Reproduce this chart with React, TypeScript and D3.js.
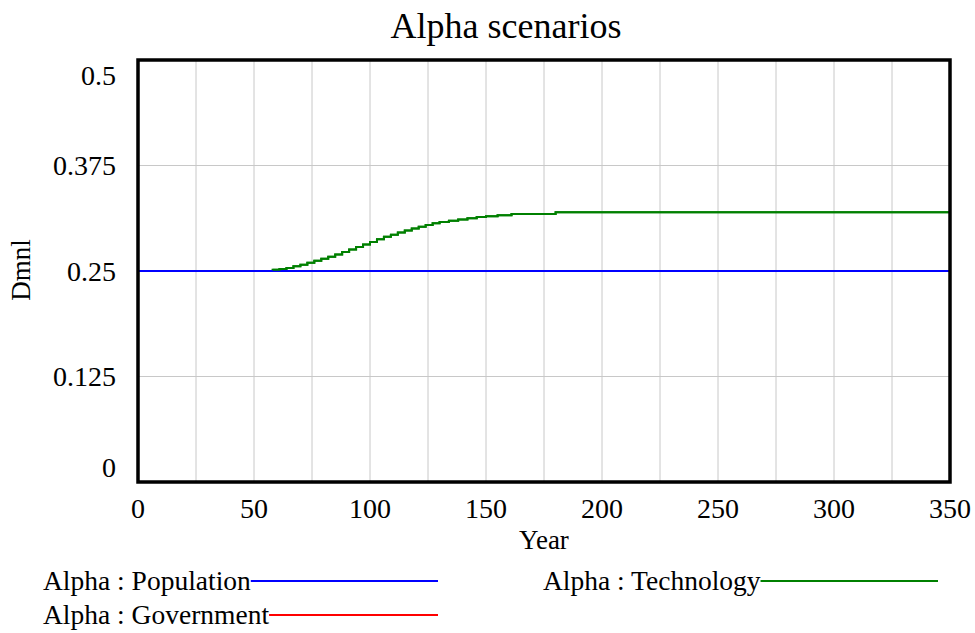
import React, { useEffect, useRef } from "react";
import * as d3 from "d3";

// data
const years = [0, 58, 61, 64, 67, 70, 73, 76, 79, 82, 85, 88, 91, 94, 97, 100, 103, 106, 109, 112, 115, 118, 121, 124, 127, 130, 134, 138, 142, 146, 150, 155, 161, 180, 350];
const technology = [0.25, 0.2515, 0.2525, 0.2535, 0.2555, 0.2575, 0.2598, 0.262, 0.2645, 0.267, 0.2695, 0.2725, 0.2755, 0.2785, 0.2815, 0.2845, 0.2875, 0.2905, 0.293, 0.2955, 0.298, 0.3005, 0.3025, 0.3045, 0.3065, 0.308, 0.3095, 0.311, 0.3125, 0.314, 0.315, 0.3162, 0.3175, 0.3195, 0.3195];
const flatYears = [0, 350];
const population = [0.25, 0.25];
const government = [0.25, 0.25];
const yTicks = [0, 0.125, 0.25, 0.375, 0.5];
const yTickLabels = ["0", "0.125", "0.25", "0.375", "0.5"];
const xTicks = [0, 50, 100, 150, 200, 250, 300, 350];
const xGrid = d3.range(0, 351, 25);

const FONT = "'Liberation Serif', 'Times New Roman', serif";

export default function App() {
  const ref = useRef<SVGSVGElement>(null);

  useEffect(() => {
    const svg = d3.select(ref.current);
    svg.selectAll("*").remove();

    const margin = { top: 60, left: 138, right: 25, bottom: 151 };
    const W = 975, H = 633;
    const x = d3.scaleLinear().domain([0, 350]).range([margin.left, W - margin.right]);
    const y = d3.scaleLinear().domain([0, 0.5]).range([H - margin.bottom, margin.top]);

    svg.append("text")
      .attr("x", 506).attr("y", 38)
      .attr("text-anchor", "middle")
      .style("font-family", FONT).style("font-size", "36px")
      .text("Alpha scenarios");

    // grid
    svg.append("g").selectAll("line.v").data(xGrid).enter().append("line")
      .attr("x1", d => x(d)).attr("x2", d => x(d))
      .attr("y1", y(0)).attr("y2", y(0.5))
      .attr("stroke", "#c8c8c8").attr("stroke-width", 1);
    svg.append("g").selectAll("line.h").data(yTicks).enter().append("line")
      .attr("x1", x(0)).attr("x2", x(350))
      .attr("y1", d => y(d)).attr("y2", d => y(d))
      .attr("stroke", "#c8c8c8").attr("stroke-width", 1);

    const line = (xs: number[], vs: number[], color: string, curve: any) => {
      const pts = xs.map((d, i) => [d, vs[i]] as [number, number]);
      svg.append("path")
        .datum(pts)
        .attr("fill", "none")
        .attr("stroke", color)
        .attr("stroke-width", 2)
        .attr("d", d3.line<[number, number]>().x(d => x(d[0])).y(d => y(d[1])).curve(curve));
    };
    line(flatYears, government, "#ff0000", d3.curveLinear);
    line(years, technology, "#008000", d3.curveStepAfter);
    line(flatYears, population, "#0000ff", d3.curveLinear);
    // technology above population after it leaves 0.25
    line(years.slice(1), technology.slice(1), "#008000", d3.curveStepAfter);

    // frame
    svg.append("rect")
      .attr("x", x(0)).attr("y", y(0.5))
      .attr("width", x(350) - x(0)).attr("height", y(0) - y(0.5))
      .attr("fill", "none").attr("stroke", "#000").attr("stroke-width", 3.5);

    // y tick labels
    svg.append("g").selectAll("text").data(yTicks).enter().append("text")
      .attr("x", 116)
      .attr("y", d => Math.min(Math.max(y(d), y(0.5) + 15), y(0) - 15))
      .attr("dy", "0.35em")
      .attr("text-anchor", "end")
      .style("font-family", FONT).style("font-size", "28px")
      .text((d, i) => yTickLabels[i]);

    // x tick labels
    svg.append("g").selectAll("text").data(xTicks).enter().append("text")
      .attr("x", d => x(d)).attr("y", 518)
      .attr("text-anchor", "middle")
      .style("font-family", FONT).style("font-size", "28px")
      .text(d => String(d));

    svg.append("text")
      .attr("x", 544).attr("y", 549)
      .attr("text-anchor", "middle")
      .style("font-family", FONT).style("font-size", "27px")
      .text("Year");

    svg.append("text")
      .attr("transform", "translate(30,270) rotate(-90)")
      .attr("text-anchor", "middle")
      .style("font-family", FONT).style("font-size", "27px")
      .text("Dmnl");

    // legend
    const legend = [
      { label: "Alpha : Population", color: "#0000ff", tx: 43, ty: 590, x2: 438 },
      { label: "Alpha : Government", color: "#ff0000", tx: 43, ty: 624, x2: 438 },
      { label: "Alpha : Technology", color: "#008000", tx: 543, ty: 590, x2: 938 },
    ];
    legend.forEach(l => {
      const t = svg.append("text")
        .attr("x", l.tx).attr("y", l.ty)
        .style("font-family", FONT).style("font-size", "27.5px")
        .text(l.label);
      const w = (t.node() as SVGTextElement).getComputedTextLength();
      svg.append("line")
        .attr("x1", l.tx + w).attr("x2", l.x2)
        .attr("y1", l.ty - 9).attr("y2", l.ty - 9)
        .attr("stroke", l.color).attr("stroke-width", 2);
    });
  }, []);

  return (
    <svg ref={ref} width={975} height={633} style={{ position: "absolute", left: 0, top: 0, background: "#fff" }} />
  );
}
